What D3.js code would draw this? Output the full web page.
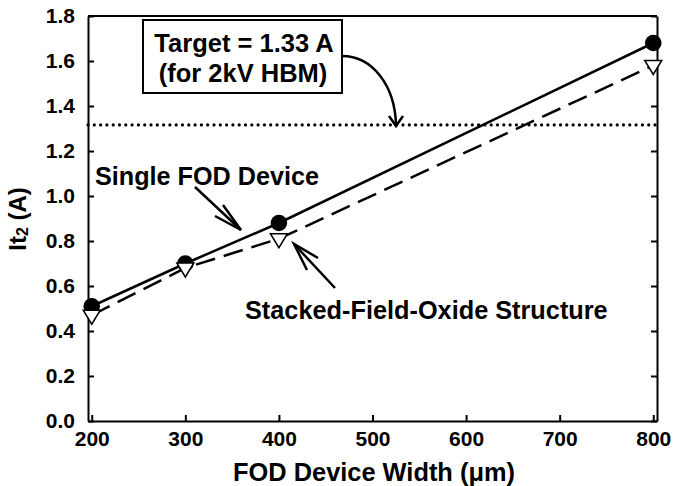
<!DOCTYPE html>
<html>
<head>
<meta charset="utf-8">
<script src="https://cdn.jsdelivr.net/npm/d3@7"></script>
<style>
  body { margin: 0; background: #fff; }
  text { font-family: "Liberation Sans", Arial, sans-serif; font-weight: bold; fill: #000; }
</style>
</head>
<body>
<div id="chart"></div>
<script>
// data
const widths = [200, 300, 400, 800];
const singleFOD = [0.51, 0.70, 0.88, 1.68];
const stackedFOD = [0.47, 0.68, 0.81, 1.58];
const target = 1.316;
const xTicks = [200, 300, 400, 500, 600, 700, 800];
const yTicks = [0, 0.2, 0.4, 0.6, 0.8, 1.0, 1.2, 1.4, 1.6, 1.8];

const W = 676, H = 486;
const margin = { top: 16, right: 19, bottom: 65, left: 88 };
const width = W - margin.left - margin.right;
const height = H - margin.top - margin.bottom;

const svg = d3.select('#chart')
  .append('svg')
    .attr('width', W)
    .attr('height', H);

const g = svg.append('g')
  .attr('transform', 'translate(' + margin.left + ',' + margin.top + ')');

const x = d3.scaleLinear().domain([196, 804]).range([0, width]);
const y = d3.scaleLinear().domain([0, 1.8]).range([height, 0]);

// axes, ticks pointing inward
const xAxis = g.append('g')
  .attr('transform', 'translate(0,' + height + ')')
  .call(d3.axisBottom(x).tickValues(xTicks).tickSizeInner(-6).tickSizeOuter(0).tickPadding(10));
const yAxis = g.append('g')
  .call(d3.axisLeft(y).tickValues(yTicks).tickSizeInner(-6).tickSizeOuter(0).tickPadding(13)
    .tickFormat(d3.format('.1f')));
const yAxisR = g.append('g')
  .attr('transform', 'translate(' + width + ',0)')
  .call(d3.axisRight(y).tickValues(yTicks).tickSizeInner(-6).tickSizeOuter(0).tickFormat(''));

[xAxis, yAxis, yAxisR].forEach(a => {
  a.selectAll('path, line').attr('stroke', '#000').attr('stroke-width', 2);
  a.selectAll('text').style('font-size', '21px').attr('font-family', null);
});

// top frame line
g.append('line')
  .attr('x1', 0).attr('x2', width).attr('y1', 0).attr('y2', 0)
  .attr('stroke', '#000').attr('stroke-width', 2);

// target dotted line
g.append('line')
  .attr('x1', 0).attr('x2', width)
  .attr('y1', y(target)).attr('y2', y(target))
  .attr('stroke', '#000').attr('stroke-width', 3.2)
  .attr('stroke-linecap', 'round')
  .attr('stroke-dasharray', '0 6.3');

const pts1 = widths.map((w, i) => [x(w), y(singleFOD[i])]);
const pts2 = widths.map((w, i) => [x(w), y(stackedFOD[i])]);
const line = d3.line();

g.append('path')
  .attr('d', line(pts1))
  .attr('fill', 'none').attr('stroke', '#000').attr('stroke-width', 2.5);

g.append('path')
  .attr('d', line(pts2))
  .attr('fill', 'none').attr('stroke', '#000').attr('stroke-width', 2.5)
  .attr('stroke-dasharray', '20,9');

// markers: circles first, triangles over them
g.append('g').selectAll('circle')
  .data(pts1)
  .enter()
  .append('circle')
    .attr('cx', d => d[0])
    .attr('cy', d => d[1])
    .attr('r', 8.3)
    .attr('fill', '#000');

g.append('g').selectAll('path')
  .data(pts2)
  .enter()
  .append('path')
    .attr('d', 'M-8.5,-5L8.5,-5L0,9Z')
    .attr('transform', d => 'translate(' + d[0] + ',' + d[1] + ')')
    .attr('fill', '#fff')
    .attr('stroke', '#000')
    .attr('stroke-width', 1.5);

// axis labels
svg.append('text')
  .attr('x', 374)
  .attr('y', 481)
  .attr('text-anchor', 'middle')
  .style('font-size', '25.4px')
  .text('FOD Device Width (\u03bcm)');

const yl = svg.append('text')
  .attr('transform', 'translate(26,219) rotate(-90)')
  .attr('text-anchor', 'middle')
  .style('font-size', '24px');
yl.append('tspan').text('It');
yl.append('tspan').text('2').style('font-size', '16px').attr('dy', 2);
yl.append('tspan').text(' (A)').attr('dy', -2);

// annotation box
svg.append('rect')
  .attr('x', 143).attr('y', 20).attr('width', 199).attr('height', 73)
  .attr('fill', '#fff').attr('stroke', '#000').attr('stroke-width', 2);
svg.append('text')
  .attr('x', 244).attr('y', 52)
  .attr('text-anchor', 'middle')
  .style('font-size', '25.5px')
  .text('Target = 1.33 A');
svg.append('text')
  .attr('x', 243).attr('y', 82)
  .attr('text-anchor', 'middle')
  .style('font-size', '25.5px')
  .text('(for 2kV HBM)');

svg.append('text')
  .attr('x', 95).attr('y', 185)
  .style('font-size', '25.2px')
  .text('Single FOD Device');
svg.append('text')
  .attr('x', 245).attr('y', 319)
  .style('font-size', '25.3px')
  .text('Stacked-Field-Oxide Structure');

// arrows
const arrows = svg.append('g')
  .attr('fill', 'none').attr('stroke', '#000').attr('stroke-width', 2.5);

arrows.append('path').attr('d', 'M342,56 C372,56 395,85 396,125');
arrows.append('path').attr('d', 'M389,116 L396,126 L403,116');

arrows.append('path').attr('d', 'M195,187 L241,230');
arrows.append('path').attr('d', 'M223,205 L241,230 L215,216');

arrows.append('path').attr('d', 'M335,288 L294,244');
arrows.append('path').attr('d', 'M318,258 L294,244 L307,270');
</script>
</body>
</html>
